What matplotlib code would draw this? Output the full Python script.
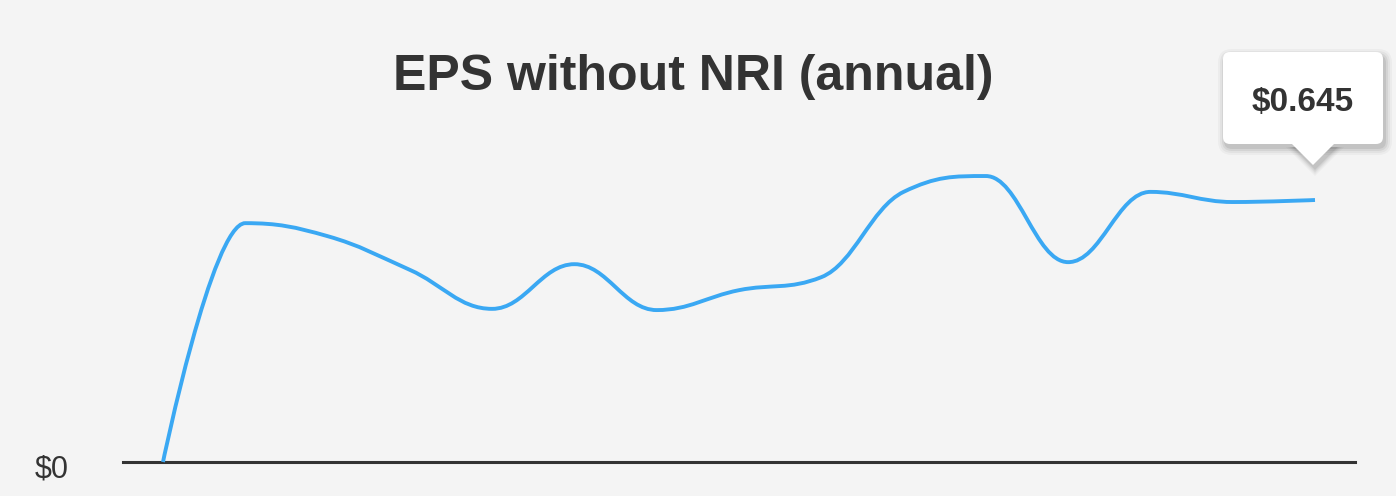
import numpy as np
import matplotlib
matplotlib.use("Agg")
import matplotlib.pyplot as plt
from matplotlib.path import Path
from matplotlib.patches import PathPatch, FancyBboxPatch, Polygon

# ---- data ----
title = "EPS without NRI (annual)"
eps_values = [0.0, 0.588, 0.556, 0.473, 0.377, 0.487, 0.374, 0.423, 0.455,
              0.665, 0.704, 0.492, 0.665, 0.640, 0.645]
y_tick_values = [0.0]
y_tick_labels = ["$0"]
tooltip_text = "$0.645"

W, H = 1396, 496
fig = plt.figure(figsize=(W / 100, H / 100), dpi=100)
bg = "#f4f4f4"
fig.patch.set_facecolor(bg)
plt.rcParams['font.family'] = ['Liberation Sans', 'DejaVu Sans']

# axes placement in pixels
ax_left, ax_right = 123, 1355
ax_bottom_px, ax_top_px = 462, 150
ax = fig.add_axes([ax_left / W, 1 - ax_bottom_px / H,
                   (ax_right - ax_left) / W, (ax_bottom_px - ax_top_px) / H])
ax.set_facecolor(bg)
n = len(eps_values)
x = np.arange(n, dtype=float)
y = np.array(eps_values, dtype=float)
pad = 40 / ((1315 - 163) / (n - 1))
ax.set_xlim(-pad, n - 1 + pad)
ax.set_ylim(0, (ax_bottom_px - ax_top_px) / 406.2)
for s in ax.spines.values():
    s.set_visible(False)
ax.set_xticks([])
ax.set_yticks([])

# Highcharts-style spline (smoothing 1.5)
def spline_path(xs, ys, sm=1.5):
    m = len(xs)
    lcx, lcy = xs.copy(), ys.copy()
    rcx, rcy = xs.copy(), ys.copy()
    d = sm + 1
    for i in range(1, m - 1):
        px, py = xs[i], ys[i]
        lx, ly = xs[i - 1], ys[i - 1]
        nx, ny = xs[i + 1], ys[i + 1]
        Lx = (sm * px + lx) / d
        Ly = (sm * py + ly) / d
        Rx = (sm * px + nx) / d
        Ry = (sm * py + ny) / d
        if Rx != Lx:
            corr = ((Ry - Ly) * (Rx - px)) / (Rx - Lx) + py - Ry
            Ly += corr
            Ry += corr
        if Ly > ly and Ly > py:
            Ly = max(ly, py); Ry = 2 * py - Ly
        elif Ly < ly and Ly < py:
            Ly = min(ly, py); Ry = 2 * py - Ly
        if Ry > ny and Ry > py:
            Ry = max(ny, py); Ly = 2 * py - Ry
        elif Ry < ny and Ry < py:
            Ry = min(ny, py); Ly = 2 * py - Ry
        lcx[i], lcy[i], rcx[i], rcy[i] = Lx, Ly, Rx, Ry
    verts = [(xs[0], ys[0])]
    codes = [Path.MOVETO]
    for i in range(1, m):
        verts += [(rcx[i - 1], rcy[i - 1]), (lcx[i], lcy[i]), (xs[i], ys[i])]
        codes += [Path.CURVE4] * 3
    return Path(verts, codes)

# baseline axis
ax.axhline(0, color="#333333", lw=2.2, clip_on=False, zorder=2)
ax.add_patch(PathPatch(spline_path(x, y), facecolor="none", edgecolor="#3aa8f3",
                       lw=2.8, clip_on=False, zorder=3, capstyle="butt"))

# y label
for v, lab in zip(y_tick_values, y_tick_labels):
    ypix = ax.transData.transform((0, v))[1]
    fig.text(69 / W, (ypix - 7) / H, lab, ha="right", va="center",
             fontsize=22, color="#333333")

# title
fig.text(693 / W, 1 - 77 / H, title, ha="center", va="center",
         fontsize=36, fontweight="bold", color="#333333")

# tooltip anchored on last point
fig.canvas.draw()
px, py = ax.transData.transform((x[-1], y[-1]))
tip_x, tip_y = px - 2, py + 35           # pointer tip (display coords, y up)
bx0, bx1 = tip_x - 90, tip_x + 70
by1 = tip_y + 21 + 92
by0 = tip_y + 21

def tooltip_patches(dx, dy, grow, fc, alpha, z):
    box = FancyBboxPatch((bx0 + dx - grow, by0 + dy - grow), bx1 - bx0 + 2 * grow,
                         by1 - by0 + 2 * grow,
                         boxstyle="round,pad=0,rounding_size=%g" % (7 + grow),
                         transform=None, facecolor=fc, edgecolor="none",
                         alpha=alpha, zorder=z)
    tri = Polygon([(tip_x - 22 - grow + dx, by0 + 1 + dy), (tip_x + 22 + grow + dx, by0 + 1 + dy),
                   (tip_x + dx, tip_y + dy - grow)], closed=True, transform=None,
                  facecolor=fc, edgecolor="none", alpha=alpha, zorder=z)
    fig.patches.extend([box, tri])

for g, a in [(7, 0.03), (5, 0.04), (3, 0.06), (1, 0.08)]:
    tooltip_patches(2, -4, g, "#000000", a, 5)
tooltip_patches(0, 0, 0, "#ffffff", 1.0, 6)
fig.text((bx0 + bx1) / 2 / W, ((by0 + by1) / 2 - 4) / H, tooltip_text, ha="center",
         va="center", fontsize=24, fontweight="bold", color="#333333", zorder=7)

fig.savefig("out.png", dpi=100, facecolor=bg)
